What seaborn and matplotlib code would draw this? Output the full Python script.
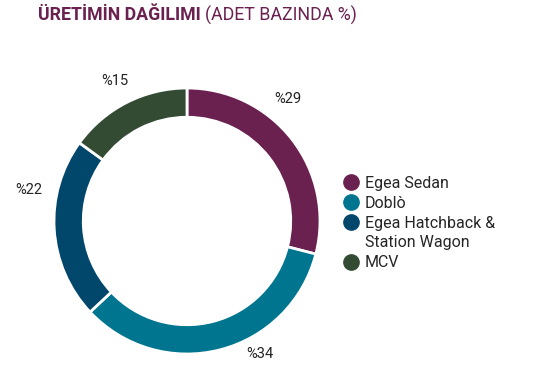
import matplotlib
matplotlib.use("Agg")
import matplotlib.pyplot as plt
from matplotlib.lines import Line2D
import seaborn as sns

categories = ["Egea Sedan", "Doblò", "Egea Hatchback &\nStation Wagon", "MCV"]
shares = [29, 34, 22, 15]
value_labels = ["%29", "%34", "%22", "%15"]
colors = ["#6a2150", "#00758f", "#00476b", "#334b33"]

# label positions (data coords, layout only)
label_pos = [(0.76, 0.92), (0.55, -1.00), (-1.19, 0.23), (-0.54, 1.05)]

sns.set_theme(style="white")
plt.rcParams["font.family"] = ["Roboto", "DejaVu Sans"]

fig = plt.figure(figsize=(5.41, 3.74), dpi=100)
ax = fig.add_axes([(187 - 133) / 541, (374 - 354) / 374, 266 / 541, 266 / 374])
wedges, _ = ax.pie(shares, colors=colors, startangle=90, counterclock=False,
                   radius=1.0,
                   wedgeprops=dict(width=0.22, edgecolor="white", linewidth=2))
ax.set_xlim(-1, 1)
ax.set_ylim(-1, 1)
ax.set_aspect("equal")
ax.axis("off")

for (x, y), t in zip(label_pos, value_labels):
    ax.text(x, y, t, ha="center", va="center", fontsize=10.5, color="#222222",
            clip_on=False)

# title
fig.text(38 / 541, 1 - 15 / 374, "ÜRETİMİN DAĞILIMI", fontsize=12.8, fontweight="bold",
         color="#6a2150", va="center", ha="left")
fig.text(205 / 541, 1 - 15 / 374, "(ADET BAZINDA %)", fontsize=12.8,
         color="#6a2150", va="center", ha="left")

# legend
handles, labels = [], []
for c, lab in zip(colors, categories):
    parts = lab.split("\n")
    handles.append(Line2D([], [], marker="o", linestyle="", markersize=11,
                          markerfacecolor=c, markeredgecolor=c))
    labels.append(parts[0])
    for p in parts[1:]:
        handles.append(Line2D([], [], marker="o", linestyle="", markersize=11,
                              markerfacecolor="none", markeredgecolor="none"))
        labels.append(p)
fig.legend(handles, labels, loc="upper left", bbox_to_anchor=(337 / 541, 1 - 168 / 374),
           frameon=False, fontsize=11.5, handlelength=0.7, handletextpad=0.55,
           labelspacing=0.3, borderpad=0)

fig.savefig("out.png", dpi=100)
